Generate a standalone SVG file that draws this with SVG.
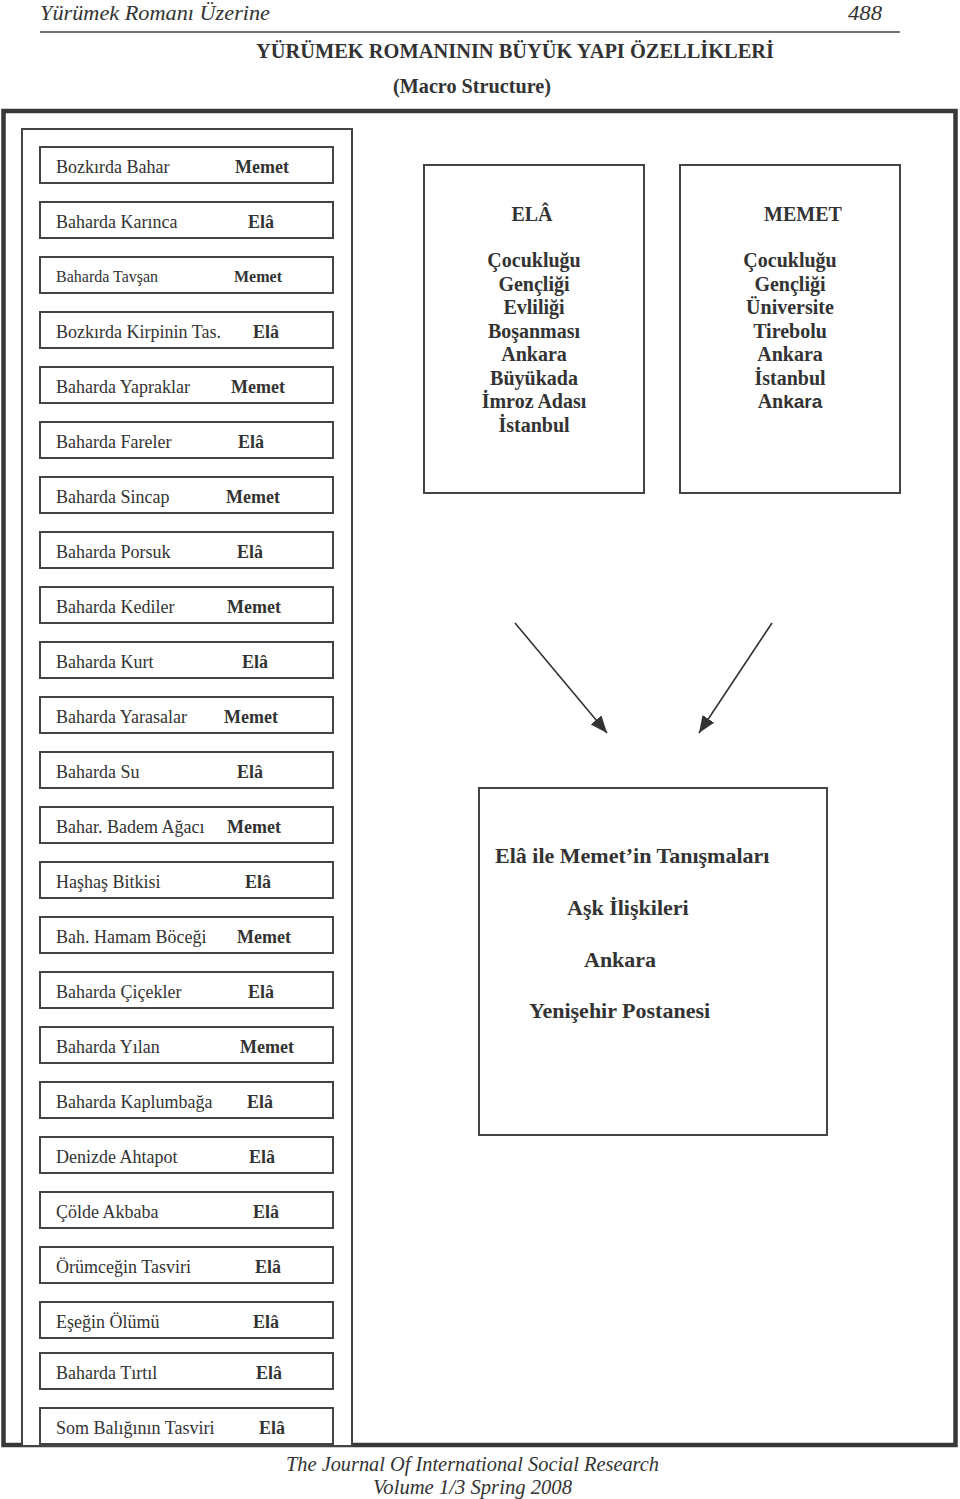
<svg xmlns="http://www.w3.org/2000/svg" width="960" height="1499" viewBox="0 0 960 1499">
<style>
.bg{fill:#fff}
.frame{fill:none;stroke:#383838;stroke-width:4.5}
.col{fill:#fff;stroke:#444;stroke-width:2}
.row{fill:#fff;stroke:#444;stroke-width:2}
.box{fill:#fff;stroke:#444;stroke-width:2}
.lbl{font-family:"Liberation Serif","Times New Roman",serif;font-size:18px;fill:#333}
.nm{font-family:"Liberation Serif","Times New Roman",serif;font-size:18px;font-weight:bold;fill:#333}
.sm{font-size:16px}
.bt{font-family:"Liberation Serif","Times New Roman",serif;font-size:20px;font-weight:bold;fill:#333;text-anchor:middle}
.big{font-family:"Liberation Serif","Times New Roman",serif;font-size:22px;font-weight:bold;fill:#333}
.hdr{font-family:"Liberation Serif","Times New Roman",serif;font-style:italic;fill:#333}
.ttl{font-family:"Liberation Serif","Times New Roman",serif;font-weight:bold;fill:#333}
.conn{stroke:#333;stroke-width:1.6;fill:none}
</style>
<defs>
<marker id="ah" markerUnits="userSpaceOnUse" markerWidth="18" markerHeight="15" refX="17" refY="7" orient="auto">
<path d="M0,0 L17,7 L0,14 z" fill="#333"/>
</marker>
</defs>
<rect class="bg" x="0" y="0" width="960" height="1499"/>

<g id="header">
<text class="hdr" x="40" y="20" font-size="22" textLength="230" lengthAdjust="spacingAndGlyphs">Yürümek Romanı Üzerine</text>
<text class="hdr" x="848" y="20" font-size="22" textLength="34" lengthAdjust="spacingAndGlyphs">488</text>
<line x1="40" y1="32" x2="900" y2="32" stroke="#444" stroke-width="1.5"/>
<text class="ttl" x="256" y="58" font-size="22" textLength="518" lengthAdjust="spacingAndGlyphs">YÜRÜMEK ROMANININ BÜYÜK YAPI ÖZELLİKLERİ</text>
<text class="ttl" x="393" y="93" font-size="20" textLength="158" lengthAdjust="spacingAndGlyphs">(Macro Structure)</text>
</g>

<g id="frame">
<rect class="frame" x="3.5" y="111" width="952" height="1334"/>
</g>

<g id="column">
<rect class="col" x="22" y="129" width="330" height="1317"/>
</g>

<g id="rows">
<g id="r1"><rect class="row" x="40" y="147" width="293" height="36"/><text class="lbl" x="56" y="173">Bozkırda Bahar</text><text class="nm" x="235" y="173">Memet</text></g>
<g id="r2"><rect class="row" x="40" y="202" width="293" height="36"/><text class="lbl" x="56" y="228">Baharda Karınca</text><text class="nm" x="248" y="228">Elâ</text></g>
<g id="r3"><rect class="row" x="40" y="257" width="293" height="36"/><text class="lbl sm" x="56" y="282">Baharda Tavşan</text><text class="nm sm" x="234" y="282">Memet</text></g>
<g id="r4"><rect class="row" x="40" y="312" width="293" height="36"/><text class="lbl" x="56" y="338">Bozkırda Kirpinin Tas.</text><text class="nm" x="253" y="338">Elâ</text></g>
<g id="r5"><rect class="row" x="40" y="367" width="293" height="36"/><text class="lbl" x="56" y="393">Baharda Yapraklar</text><text class="nm" x="231" y="393">Memet</text></g>
<g id="r6"><rect class="row" x="40" y="422" width="293" height="36"/><text class="lbl" x="56" y="448">Baharda Fareler</text><text class="nm" x="238" y="448">Elâ</text></g>
<g id="r7"><rect class="row" x="40" y="477" width="293" height="36"/><text class="lbl" x="56" y="503">Baharda Sincap</text><text class="nm" x="226" y="503">Memet</text></g>
<g id="r8"><rect class="row" x="40" y="532" width="293" height="36"/><text class="lbl" x="56" y="558">Baharda Porsuk</text><text class="nm" x="237" y="558">Elâ</text></g>
<g id="r9"><rect class="row" x="40" y="587" width="293" height="36"/><text class="lbl" x="56" y="613">Baharda Kediler</text><text class="nm" x="227" y="613">Memet</text></g>
<g id="r10"><rect class="row" x="40" y="642" width="293" height="36"/><text class="lbl" x="56" y="668">Baharda Kurt</text><text class="nm" x="242" y="668">Elâ</text></g>
<g id="r11"><rect class="row" x="40" y="697" width="293" height="36"/><text class="lbl" x="56" y="723">Baharda Yarasalar</text><text class="nm" x="224" y="723">Memet</text></g>
<g id="r12"><rect class="row" x="40" y="752" width="293" height="36"/><text class="lbl" x="56" y="778">Baharda Su</text><text class="nm" x="237" y="778">Elâ</text></g>
<g id="r13"><rect class="row" x="40" y="807" width="293" height="36"/><text class="lbl" x="56" y="833">Bahar. Badem Ağacı</text><text class="nm" x="227" y="833">Memet</text></g>
<g id="r14"><rect class="row" x="40" y="862" width="293" height="36"/><text class="lbl" x="56" y="888">Haşhaş Bitkisi</text><text class="nm" x="245" y="888">Elâ</text></g>
<g id="r15"><rect class="row" x="40" y="917" width="293" height="36"/><text class="lbl" x="56" y="943">Bah. Hamam Böceği</text><text class="nm" x="237" y="943">Memet</text></g>
<g id="r16"><rect class="row" x="40" y="972" width="293" height="36"/><text class="lbl" x="56" y="998">Baharda Çiçekler</text><text class="nm" x="248" y="998">Elâ</text></g>
<g id="r17"><rect class="row" x="40" y="1027" width="293" height="36"/><text class="lbl" x="56" y="1053">Baharda Yılan</text><text class="nm" x="240" y="1053">Memet</text></g>
<g id="r18"><rect class="row" x="40" y="1082" width="293" height="36"/><text class="lbl" x="56" y="1108">Baharda Kaplumbağa</text><text class="nm" x="247" y="1108">Elâ</text></g>
<g id="r19"><rect class="row" x="40" y="1137" width="293" height="36"/><text class="lbl" x="56" y="1163">Denizde Ahtapot</text><text class="nm" x="249" y="1163">Elâ</text></g>
<g id="r20"><rect class="row" x="40" y="1192" width="293" height="36"/><text class="lbl" x="56" y="1218">Çölde Akbaba</text><text class="nm" x="253" y="1218">Elâ</text></g>
<g id="r21"><rect class="row" x="40" y="1247" width="293" height="36"/><text class="lbl" x="56" y="1273">Örümceğin Tasviri</text><text class="nm" x="255" y="1273">Elâ</text></g>
<g id="r22"><rect class="row" x="40" y="1302" width="293" height="36"/><text class="lbl" x="56" y="1328">Eşeğin Ölümü</text><text class="nm" x="253" y="1328">Elâ</text></g>
<g id="r23"><rect class="row" x="40" y="1353" width="293" height="36"/><text class="lbl" x="56" y="1379">Baharda Tırtıl</text><text class="nm" x="256" y="1379">Elâ</text></g>
<g id="r24"><rect class="row" x="40" y="1408" width="293" height="36"/><text class="lbl" x="56" y="1434">Som Balığının Tasviri</text><text class="nm" x="259" y="1434">Elâ</text></g>
</g>

<g id="ela">
<rect class="box" x="424" y="165" width="220" height="328"/>
<text class="bt" x="532" y="221">ELÂ</text>
<text class="bt" x="534" y="267">Çocukluğu</text>
<text class="bt" x="534" y="290.5">Gençliği</text>
<text class="bt" x="534" y="314">Evliliği</text>
<text class="bt" x="534" y="337.5">Boşanması</text>
<text class="bt" x="534" y="361">Ankara</text>
<text class="bt" x="534" y="384.5">Büyükada</text>
<text class="bt" x="534" y="408">İmroz Adası</text>
<text class="bt" x="534" y="431.5">İstanbul</text>
</g>

<g id="memet">
<rect class="box" x="680" y="165" width="220" height="328"/>
<text class="bt" x="803" y="221">MEMET</text>
<text class="bt" x="790" y="267">Çocukluğu</text>
<text class="bt" x="790" y="290.5">Gençliği</text>
<text class="bt" x="790" y="314">Üniversite</text>
<text class="bt" x="790" y="337.5">Tirebolu</text>
<text class="bt" x="790" y="361">Ankara</text>
<text class="bt" x="790" y="384.5">İstanbul</text>
<text class="bt" x="790" y="408">An<tspan font-family="'Liberation Sans',Arial,sans-serif" font-size="19">kara</tspan></text>
</g>

<g id="meeting">
<rect class="box" x="479" y="788" width="348" height="347"/>
<text class="big" x="495" y="863">Elâ ile Memet’in Tanışmaları</text>
<text class="big" x="567" y="915">Aşk İlişkileri</text>
<text class="big" x="584" y="967">Ankara</text>
<text class="big" x="529" y="1018">Yenişehir Postanesi</text>
</g>

<g id="connectors">
<line class="conn" x1="515" y1="623" x2="607" y2="733" marker-end="url(#ah)"/>
<line class="conn" x1="772" y1="623" x2="699" y2="733" marker-end="url(#ah)"/>
</g>

<g id="footer">
<text class="hdr" x="286" y="1471" font-size="21" textLength="373" lengthAdjust="spacingAndGlyphs">The Journal Of International Social Research</text>
<text class="hdr" x="373" y="1494" font-size="21" textLength="199" lengthAdjust="spacingAndGlyphs">Volume 1/3 Spring 2008</text>
</g>
</svg>
